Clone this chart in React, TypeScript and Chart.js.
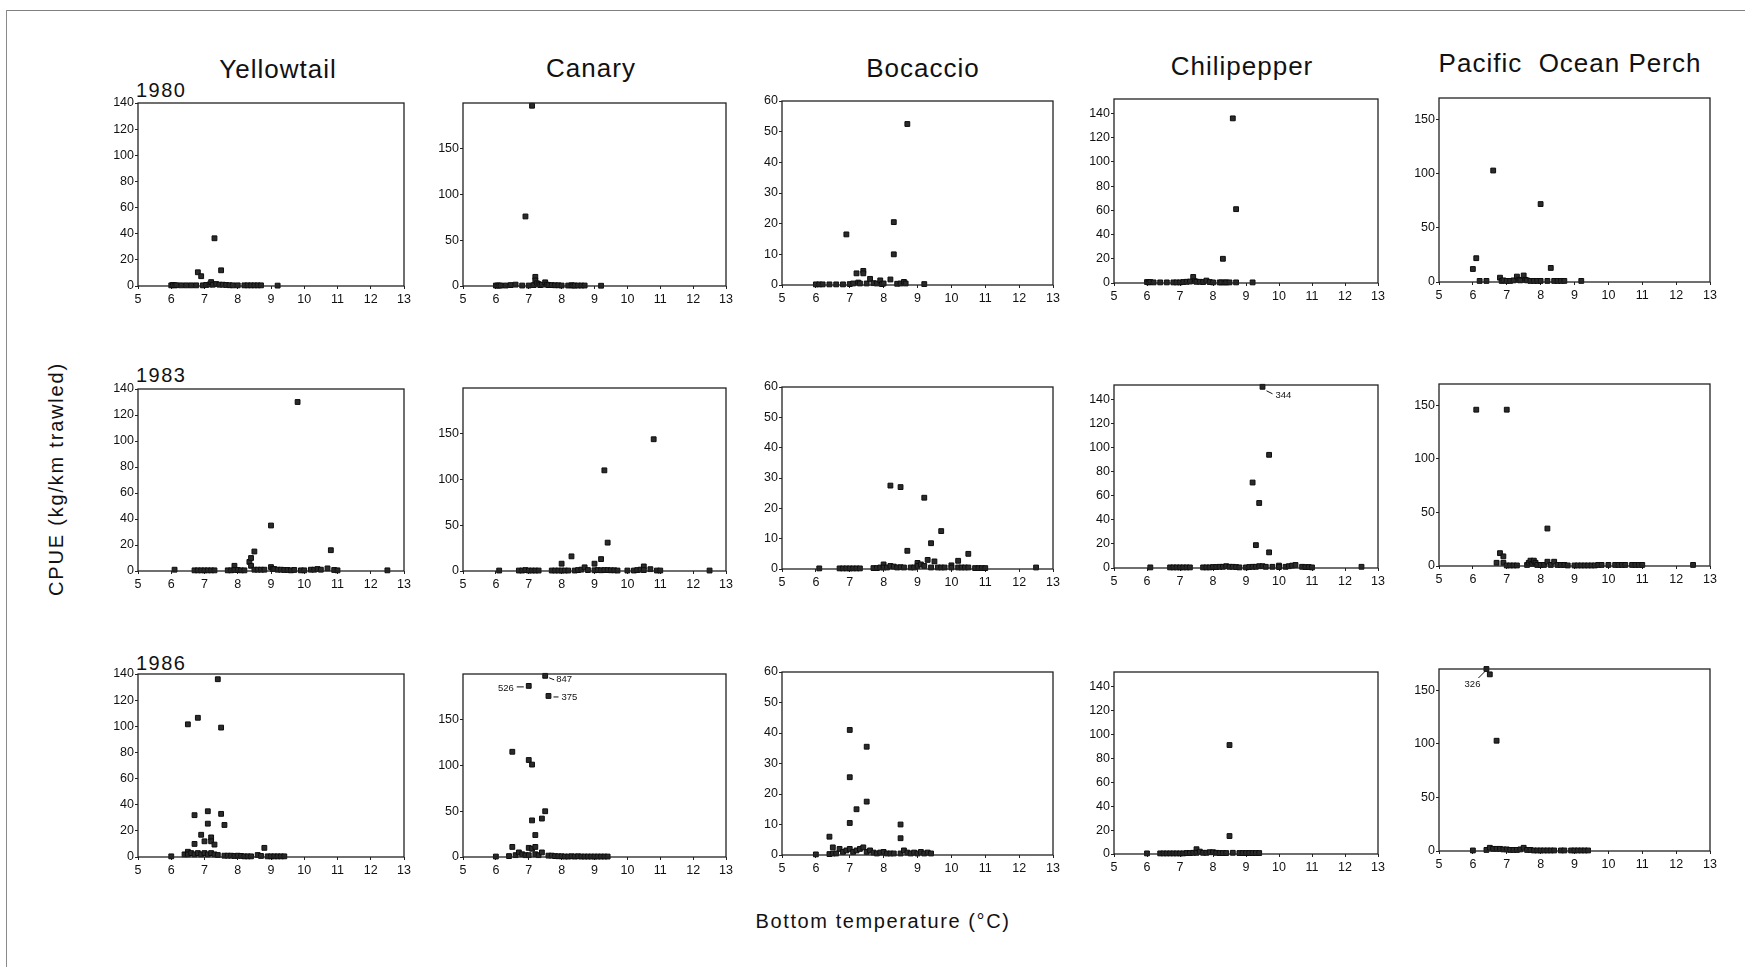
import React, { useEffect, useRef } from 'react';
import { Chart, registerables } from 'chart.js';
Chart.register(...registerables);

// ---------- categories / labels ----------
const speciesNames = ['Yellowtail', 'Canary', 'Bocaccio', 'Chilipepper', 'Pacific  Ocean Perch'];
const years = ['1980', '1983', '1986'];
const xTicks = [5, 6, 7, 8, 9, 10, 11, 12, 13];
const xMin = 5;
const xMax = 13;
const yMaxBySpecies = [140, 200, 60, 152, 170];
const yTicksYellowtail = [0, 20, 40, 60, 80, 100, 120, 140];
const yTicksCanary = [0, 50, 100, 150];
const yTicksBocaccio = [0, 10, 20, 30, 40, 50, 60];
const yTicksChilipepper = [0, 20, 40, 60, 80, 100, 120, 140];
const yTicksPOP = [0, 50, 100, 150];
const xTitle = 'Bottom temperature (\u00B0C)';
const yTitle = 'CPUE (kg/km trawled)';

// ---------- 1980 ----------
const yt80X = [6.0, 6.05, 6.1, 6.15, 6.3, 6.45, 6.6, 6.75, 6.8, 6.9, 6.95, 7.05, 7.15, 7.2, 7.25, 7.3, 7.35, 7.45, 7.5, 7.55, 7.65, 7.75, 7.85, 8.0, 8.2, 8.3, 8.4, 8.5, 8.6, 8.7, 9.2];
const yt80Y = [0.5, 0.8, 0.5, 0.6, 0.5, 0.5, 0.5, 0.5, 10.5, 7.5, 0.5, 0.8, 1.2, 3, 1, 36.5, 1.5, 1, 12, 1, 0.8, 0.6, 0.5, 0.5, 0.5, 0.5, 0.5, 0.5, 0.5, 0.5, 0.3];
const ca80X = [6.0, 6.05, 6.1, 6.15, 6.3, 6.45, 6.6, 6.8, 6.9, 7.0, 7.1, 7.15, 7.2, 7.2, 7.25, 7.3, 7.35, 7.4, 7.5, 7.55, 7.6, 7.7, 7.8, 7.9, 8.0, 8.2, 8.3, 8.35, 8.4, 8.5, 8.6, 8.7, 9.2];
const ca80Y = [0.5, 0.5, 0.5, 0.5, 0.5, 1, 1.5, 0.5, 76, 0.5, 197, 1, 10, 6, 3, 2, 1, 1.5, 4, 1.5, 1, 1, 0.8, 0.8, 0.5, 0.5, 0.8, 0.5, 0.5, 0.5, 0.5, 0.5, 0.3];
const bo80X = [6.0, 6.1, 6.2, 6.4, 6.6, 6.8, 6.9, 7.0, 7.1, 7.2, 7.25, 7.3, 7.4, 7.4, 7.5, 7.6, 7.7, 7.8, 7.9, 7.95, 8.0, 8.2, 8.3, 8.3, 8.4, 8.5, 8.6, 8.65, 8.7, 9.2];
const bo80Y = [0.2, 0.2, 0.2, 0.2, 0.2, 0.2, 16.5, 0.3, 0.5, 3.8, 0.8, 0.5, 4.6, 3.8, 0.5, 2, 0.6, 0.5, 1.5, 0.3, 0.5, 1.8, 20.5, 10, 0.4, 0.5, 1, 0.5, 52.5, 0.3];
const ch80X = [6.0, 6.05, 6.1, 6.2, 6.4, 6.6, 6.8, 6.9, 7.0, 7.1, 7.2, 7.3, 7.4, 7.45, 7.5, 7.6, 7.7, 7.8, 7.9, 8.0, 8.2, 8.25, 8.3, 8.35, 8.4, 8.5, 8.6, 8.7, 8.7, 9.2];
const ch80Y = [0.8, 0.5, 0.8, 0.5, 0.5, 0.5, 0.5, 0.5, 0.5, 0.8, 1, 1.2, 5, 1.5, 1, 1, 0.8, 2, 0.8, 0.5, 0.5, 0.5, 20, 0.5, 0.5, 0.5, 136, 61, 0.5, 0.5];
const po80X = [6.0, 6.1, 6.2, 6.4, 6.6, 6.8, 6.85, 6.9, 7.0, 7.1, 7.2, 7.3, 7.35, 7.4, 7.5, 7.55, 7.6, 7.7, 7.8, 7.9, 8.0, 8.0, 8.2, 8.3, 8.4, 8.5, 8.6, 8.7, 9.2];
const po80Y = [12, 22, 1, 1, 103, 4, 1, 1.5, 1, 1, 1.5, 5, 2, 1.5, 6, 2, 1.5, 1, 1, 1, 72, 1, 1, 13, 1, 1, 1, 1, 1];

// ---------- 1983 ----------
const yt83X = [6.1, 6.7, 6.8, 6.9, 7.0, 7.1, 7.2, 7.3, 7.7, 7.8, 7.9, 7.9, 8.0, 8.1, 8.2, 8.35, 8.4, 8.4, 8.5, 8.5, 8.6, 8.7, 8.8, 9.0, 9.0, 9.05, 9.1, 9.2, 9.3, 9.4, 9.5, 9.6, 9.7, 9.8, 9.9, 10.0, 10.2, 10.3, 10.4, 10.5, 10.7, 10.8, 10.9, 11.0, 12.5];
const yt83Y = [1, 0.5, 0.5, 0.5, 0.5, 0.5, 0.5, 0.5, 0.5, 0.5, 4, 0.8, 0.8, 0.5, 0.5, 7, 10, 4, 15, 1, 1, 1, 1, 35, 3, 1.5, 1.5, 1, 1, 0.8, 0.8, 0.5, 0.8, 130, 0.5, 0.5, 1, 1, 1.5, 1, 2, 16, 0.8, 0.5, 0.5];
const ca83X = [6.1, 6.7, 6.8, 6.9, 7.0, 7.1, 7.2, 7.3, 7.7, 7.8, 7.9, 8.0, 8.0, 8.1, 8.2, 8.3, 8.4, 8.5, 8.6, 8.7, 8.8, 9.0, 9.0, 9.1, 9.2, 9.2, 9.3, 9.3, 9.4, 9.4, 9.5, 9.6, 9.7, 10.0, 10.2, 10.3, 10.4, 10.5, 10.5, 10.7, 10.8, 10.9, 11.0, 12.5];
const ca83Y = [0.5, 0.5, 0.5, 1, 0.5, 0.5, 0.5, 0.5, 0.5, 0.5, 0.5, 8, 0.5, 0.5, 0.5, 16, 0.5, 1, 1.5, 4, 1, 8, 0.8, 1, 13, 0.8, 110, 1, 31, 1, 0.8, 0.8, 0.5, 0.5, 0.5, 1, 1.5, 5, 1, 2, 144, 0.5, 0.5, 0.5];
const bo83X = [6.1, 6.7, 6.8, 6.9, 7.0, 7.1, 7.2, 7.3, 7.7, 7.8, 7.9, 8.0, 8.0, 8.1, 8.2, 8.2, 8.3, 8.4, 8.5, 8.5, 8.6, 8.7, 8.8, 8.9, 9.0, 9.0, 9.1, 9.2, 9.2, 9.3, 9.4, 9.4, 9.5, 9.6, 9.7, 9.7, 9.8, 10.0, 10.0, 10.2, 10.2, 10.3, 10.4, 10.5, 10.5, 10.7, 10.8, 10.9, 11.0, 12.5];
const bo83Y = [0.2, 0.2, 0.2, 0.2, 0.2, 0.2, 0.2, 0.2, 0.3, 0.3, 0.5, 1.5, 0.5, 0.5, 27.5, 1, 0.8, 0.5, 27, 0.6, 0.5, 6, 0.5, 0.5, 2, 1, 1.5, 23.5, 1, 3, 8.5, 0.5, 2.5, 0.5, 12.5, 0.5, 0.5, 1.2, 0.5, 2.7, 0.5, 0.5, 0.5, 5, 0.5, 0.3, 0.3, 0.3, 0.3, 0.5];
const ch83X = [6.1, 6.7, 6.8, 6.9, 7.0, 7.1, 7.2, 7.3, 7.7, 7.8, 7.9, 8.0, 8.1, 8.2, 8.3, 8.4, 8.5, 8.6, 8.7, 8.8, 9.0, 9.1, 9.2, 9.2, 9.3, 9.3, 9.4, 9.4, 9.5, 9.5, 9.6, 9.7, 9.7, 9.8, 10.0, 10.0, 10.2, 10.3, 10.4, 10.5, 10.7, 10.8, 10.9, 11.0, 12.5];
const ch83Y = [0.5, 0.5, 0.5, 0.5, 0.5, 0.5, 0.5, 0.5, 0.5, 0.5, 0.5, 0.8, 0.8, 1, 1, 1.5, 1, 1, 0.8, 0.5, 0.5, 0.8, 71, 1, 19, 1, 54, 1.5, 150.5, 1.5, 1, 94, 13, 1, 2, 0.8, 1, 1.5, 2, 2.5, 1, 0.8, 0.8, 0.5, 1];
const po83X = [6.1, 6.7, 6.8, 6.9, 6.9, 7.0, 7.0, 7.1, 7.2, 7.3, 7.6, 7.65, 7.7, 7.75, 7.8, 7.85, 7.9, 8.0, 8.1, 8.2, 8.2, 8.3, 8.4, 8.5, 8.6, 8.7, 8.8, 9.0, 9.1, 9.2, 9.3, 9.4, 9.5, 9.6, 9.7, 9.8, 10.0, 10.2, 10.3, 10.4, 10.5, 10.7, 10.8, 10.9, 11.0, 12.5];
const po83Y = [146, 3, 12, 9, 3, 146, 0.5, 0.5, 0.5, 0.5, 1, 3, 5, 2, 5, 3, 1, 1, 1, 35, 4, 1, 4, 1, 1, 1, 0.5, 0.5, 0.5, 0.5, 0.5, 0.5, 0.5, 0.5, 1, 1, 1, 1, 1, 1, 1, 1, 1, 1, 1, 1];

// ---------- 1986 ----------
const yt86X = [6.0, 6.4, 6.5, 6.5, 6.5, 6.6, 6.7, 6.7, 6.7, 6.8, 6.8, 6.9, 6.9, 7.0, 7.0, 7.1, 7.1, 7.1, 7.2, 7.2, 7.2, 7.3, 7.3, 7.4, 7.4, 7.5, 7.5, 7.6, 7.6, 7.7, 7.8, 7.9, 8.0, 8.1, 8.2, 8.3, 8.4, 8.6, 8.7, 8.8, 8.9, 9.0, 9.1, 9.2, 9.3, 9.4];
const yt86Y = [0.5, 2, 101.5, 4, 2, 3, 32, 10, 2, 106.5, 3, 17, 2, 12, 3, 35, 25.5, 2, 15, 12, 3, 9.5, 2, 136, 1.5, 99, 33, 24.5, 1, 1, 1, 0.8, 1, 0.8, 0.5, 0.5, 0.5, 1.5, 0.8, 7, 0.5, 0.5, 0.5, 0.5, 0.5, 0.5];
const ca86X = [6.0, 6.4, 6.5, 6.5, 6.6, 6.7, 6.8, 6.9, 7.0, 7.0, 7.0, 7.0, 7.1, 7.1, 7.1, 7.2, 7.2, 7.2, 7.3, 7.4, 7.4, 7.5, 7.5, 7.6, 7.6, 7.7, 7.8, 7.9, 8.0, 8.1, 8.2, 8.3, 8.4, 8.5, 8.6, 8.7, 8.8, 8.9, 9.0, 9.1, 9.2, 9.3, 9.4];
const ca86Y = [0.5, 1, 115, 11, 2, 5, 3, 2, 187, 106, 10, 2, 101, 40, 9, 24, 11, 3, 2, 42, 5, 198, 50, 176, 1.5, 1.5, 1, 0.8, 0.8, 0.5, 0.5, 0.8, 0.5, 0.8, 0.5, 0.5, 0.5, 0.5, 0.5, 0.5, 0.5, 0.5, 0.5];
const bo86X = [6.0, 6.4, 6.4, 6.5, 6.5, 6.6, 6.7, 6.8, 6.9, 7.0, 7.0, 7.0, 7.0, 7.1, 7.2, 7.2, 7.3, 7.4, 7.5, 7.5, 7.5, 7.6, 7.7, 7.8, 7.9, 8.0, 8.1, 8.2, 8.3, 8.5, 8.5, 8.5, 8.6, 8.7, 8.8, 8.9, 9.0, 9.1, 9.2, 9.3, 9.4];
const bo86Y = [0.2, 6, 0.3, 2.5, 0.5, 0.5, 2, 1, 1.5, 41, 25.5, 10.5, 2, 1, 15, 1.5, 2, 2.5, 35.5, 17.5, 1, 1.5, 0.8, 0.5, 0.8, 1, 0.5, 0.5, 0.5, 10, 5.5, 0.5, 1.5, 0.8, 0.5, 0.8, 0.5, 1, 0.5, 0.8, 0.5];
const ch86X = [6.0, 6.4, 6.5, 6.6, 6.7, 6.8, 6.9, 7.0, 7.1, 7.2, 7.3, 7.4, 7.5, 7.5, 7.6, 7.7, 7.8, 7.9, 8.0, 8.1, 8.2, 8.3, 8.4, 8.5, 8.5, 8.6, 8.8, 8.9, 9.0, 9.1, 9.2, 9.3, 9.4];
const ch86Y = [0.5, 0.5, 0.5, 0.5, 0.5, 0.5, 0.5, 0.5, 0.5, 0.8, 0.8, 1, 4, 1, 2, 1, 1, 1.5, 1.5, 1, 0.8, 0.8, 0.8, 91, 15, 1, 0.8, 0.8, 0.8, 0.8, 0.8, 0.8, 0.8];
const po86X = [6.0, 6.4, 6.4, 6.5, 6.5, 6.6, 6.7, 6.7, 6.8, 6.9, 7.0, 7.1, 7.2, 7.3, 7.4, 7.5, 7.6, 7.7, 7.8, 7.9, 8.0, 8.1, 8.2, 8.3, 8.4, 8.6, 8.7, 8.9, 9.0, 9.1, 9.2, 9.3, 9.4];
const po86Y = [0.5, 170, 1, 165, 3, 2, 103, 2, 2, 1.5, 1.5, 1, 1, 1, 1.5, 3, 1, 1, 0.5, 0.5, 0.5, 0.5, 0.5, 0.5, 0.5, 0.5, 0.5, 0.5, 0.5, 0.5, 0.5, 0.5, 0.5];

// off-scale values written beside their points
const ch83Notes = [{ x: 9.5, y: 150.5, text: '344', kind: 'ese' }];
const ca86Notes = [
  { x: 7.5, y: 198, text: '847', kind: 'ne' },
  { x: 7.0, y: 187, text: '526', kind: 'w' },
  { x: 7.6, y: 176, text: '375', kind: 'e' },
];
const po86Notes = [{ x: 6.4, y: 170, text: '326', kind: 'sw' }];

// ---------- layout (styles only) ----------
const W = 1745;
const H = 967;
const YW = 40; // y-axis width
const XH = 28; // x-axis height
const PT = 10;
const PR = 12;
const FONT = '"Liberation Sans", Arial, Helvetica, sans-serif';
const INK = '#111';
const colLR = [[137.5, 404], [463, 726], [782, 1052.5], [1113.5, 1378], [1439, 1709.5]];
const rowTB = [
  [[103, 286], [389, 571], [674, 857]],
  [[102.5, 285.5], [387.5, 570.5], [673.5, 856.5]],
  [[101, 284.5], [387, 569], [672, 854.5]],
  [[99, 283.3], [385, 567.7], [671.5, 854]],
  [[98.3, 281.7], [384, 566], [669, 851.3]],
];
const titleCY = [69, 68, 68, 66, 63];
const titleCX = [278, 591, 923, 1242, 1570];
const yearCY = [90, 375, 663];

const noteStyles: Record<string, { l: number[]; tx: number; ty: number; align: CanvasTextAlign }> = {
  ese: { l: [4, 4, 10, 7], tx: 13, ty: 9, align: 'left' },
  ne: { l: [4, 2, 9, 4], tx: 11, ty: 4, align: 'left' },
  e: { l: [5, 1, 10, 1], tx: 13, ty: 1, align: 'left' },
  w: { l: [-12, 1, -5, 1], tx: -15, ty: 2, align: 'right' },
  sw: { l: [-2, 3, -8, 9], tx: -6, ty: 15, align: 'right' },
};

const panelData = [
  [[yt80X, yt80Y], [ca80X, ca80Y], [bo80X, bo80Y], [ch80X, ch80Y], [po80X, po80Y]],
  [[yt83X, yt83Y], [ca83X, ca83Y], [bo83X, bo83Y], [ch83X, ch83Y], [po83X, po83Y]],
  [[yt86X, yt86Y], [ca86X, ca86Y], [bo86X, bo86Y], [ch86X, ch86Y], [po86X, po86Y]],
];
const yTicksBySpecies = [yTicksYellowtail, yTicksCanary, yTicksBocaccio, yTicksChilipepper, yTicksPOP];
const notesFor = (row: number, col: number) => {
  if (row === 1 && col === 3) return ch83Notes;
  if (row === 2 && col === 1) return ca86Notes;
  if (row === 2 && col === 4) return po86Notes;
  return [];
};

type PanelProps = {
  l: number; t: number; r: number; b: number;
  xs: number[]; ys: number[]; yMax: number; yTicks: number[];
  notes: { x: number; y: number; text: string; kind: string }[];
};

function Panel({ l, t, r, b, xs, ys, yMax, yTicks, notes }: PanelProps) {
  const ref = useRef<HTMLCanvasElement | null>(null);
  const left = Math.round(l) - YW;
  const top = Math.round(t) - PT;
  const width = Math.round(r) - Math.round(l) + YW + PR;
  const height = Math.round(b) - Math.round(t) + PT + XH;

  useEffect(() => {
    if (!ref.current) return;
    const boxPlugin = {
      id: 'box',
      afterDraw(chart: any) {
        const { ctx, chartArea: a } = chart;
        ctx.save();
        ctx.strokeStyle = '#222';
        ctx.lineWidth = 1.3;
        ctx.strokeRect(a.left, a.top, a.right - a.left, a.bottom - a.top);
        ctx.restore();
      },
    };
    const notePlugin = {
      id: 'notes',
      afterDatasetsDraw(chart: any) {
        const { ctx } = chart;
        const meta = chart.getDatasetMeta(0);
        notes.forEach((n) => {
          const idx = xs.findIndex((x, i) => x === n.x && ys[i] === n.y);
          if (idx < 0) return;
          const el = meta.data[idx];
          const st = noteStyles[n.kind];
          ctx.save();
          ctx.strokeStyle = INK;
          ctx.lineWidth = 1;
          ctx.beginPath();
          ctx.moveTo(el.x + st.l[0], el.y + st.l[1]);
          ctx.lineTo(el.x + st.l[2], el.y + st.l[3]);
          ctx.stroke();
          ctx.fillStyle = INK;
          ctx.font = `9.5px ${FONT}`;
          ctx.textAlign = st.align;
          ctx.textBaseline = 'middle';
          ctx.fillText(n.text, el.x + st.tx, el.y + st.ty);
          ctx.restore();
        });
      },
    };
    const tickFont = { family: FONT, size: 12.5 };
    const chart = new Chart(ref.current, {
      type: 'scatter',
      data: {
        datasets: [
          {
            data: xs.map((x, i) => ({ x, y: ys[i] })),
            pointStyle: 'rect',
            pointRadius: 3.4,
            pointHoverRadius: 3.4,
            backgroundColor: '#2b2b2b',
            borderColor: '#0d0d0d',
            borderWidth: 1,
            clip: false,
          } as any,
        ],
      },
      options: {
        responsive: false,
        animation: false,
        devicePixelRatio: 1,
        events: [],
        layout: { padding: { left: 0, top: PT, right: PR, bottom: 0 } },
        plugins: { legend: { display: false }, tooltip: { enabled: false } },
        scales: {
          x: {
            type: 'linear',
            min: xMin,
            max: xMax,
            afterBuildTicks: (axis: any) => { axis.ticks = xTicks.map((v) => ({ value: v })); },
            afterFit: (axis: any) => { axis.height = XH; },
            border: { display: false },
            grid: { display: true, drawOnChartArea: false, drawTicks: true, tickLength: 3, color: '#222', lineWidth: 1 },
            ticks: { font: tickFont, color: INK, padding: 3, maxRotation: 0, autoSkip: false, callback: (v: any) => String(v) },
          },
          y: {
            type: 'linear',
            min: 0,
            max: yMax,
            afterBuildTicks: (axis: any) => { axis.ticks = yTicks.map((v) => ({ value: v })); },
            afterFit: (axis: any) => { axis.width = YW; },
            border: { display: false },
            grid: { display: true, drawOnChartArea: false, drawTicks: true, tickLength: 3, color: '#222', lineWidth: 1 },
            ticks: { font: tickFont, color: INK, padding: 1, autoSkip: false, callback: (v: any) => String(v) },
          },
        },
      } as any,
      plugins: [boxPlugin, notePlugin],
    });
    return () => chart.destroy();
  }, []);

  return (
    <canvas
      ref={ref}
      width={width}
      height={height}
      style={{ position: 'absolute', left, top, width, height }}
    />
  );
}

const textBase: React.CSSProperties = {
  position: 'absolute',
  fontFamily: FONT,
  color: INK,
  whiteSpace: 'pre',
  lineHeight: 1,
};

export default function App() {
  return (
    <div style={{ position: 'absolute', left: 0, top: 0, width: W, height: H, background: '#fff', overflow: 'hidden' }}>
      {/* scanned page frame */}
      <div style={{ position: 'absolute', left: 6, top: 10, width: W - 6, height: 0, borderTop: '1.5px solid #808080' }} />
      <div style={{ position: 'absolute', left: 6, top: 10, width: 0, height: H - 10, borderLeft: '1.5px solid #8a8a8a' }} />

      {speciesNames.map((name, c) => (
        <div key={name} style={{ ...textBase, left: titleCX[c], top: titleCY[c], fontSize: 26, letterSpacing: 1, transform: 'translate(-50%, -50%)' }}>
          {name}
        </div>
      ))}
      {years.map((yr, r) => (
        <div key={yr} style={{ ...textBase, left: 136, top: yearCY[r], fontSize: 20, letterSpacing: 1.5, transform: 'translateY(-50%)' }}>
          {yr}
        </div>
      ))}
      <div style={{ ...textBase, left: 56, top: 479, fontSize: 20, letterSpacing: 1.8, transform: 'translate(-50%, -50%) rotate(-90deg)' }}>
        {yTitle}
      </div>
      <div style={{ ...textBase, left: 883, top: 921, fontSize: 20, letterSpacing: 1.6, transform: 'translate(-50%, -50%)' }}>
        {xTitle}
      </div>

      {panelData.map((row, r) =>
        row.map(([xs, ys], c) => (
          <Panel
            key={`${r}-${c}`}
            l={colLR[c][0]}
            r={colLR[c][1]}
            t={rowTB[c][r][0]}
            b={rowTB[c][r][1]}
            xs={xs}
            ys={ys}
            yMax={yMaxBySpecies[c]}
            yTicks={yTicksBySpecies[c]}
            notes={notesFor(r, c)}
          />
        ))
      )}
    </div>
  );
}
